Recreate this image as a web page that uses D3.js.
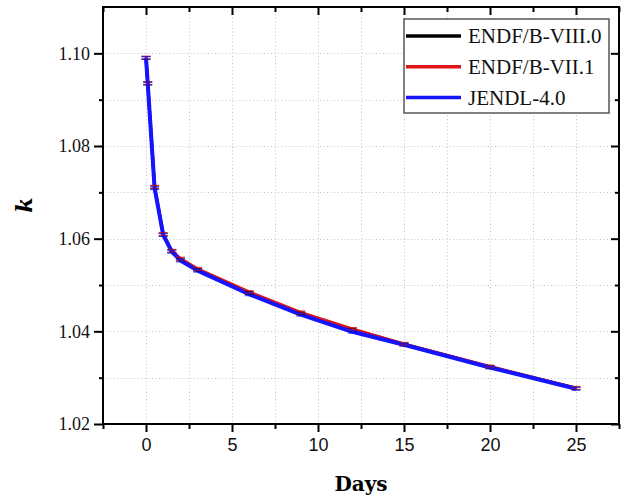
<!DOCTYPE html>
<html>
<head>
<meta charset="utf-8">
<script src="https://cdn.jsdelivr.net/npm/d3@7"></script>
<style>
  body { margin: 0; background: #fff; }
  svg { display: block; }
</style>
</head>
<body>
<svg width="629" height="496"></svg>
<script>
// burnup steps (days) and k values
var days = [0, 0.1, 0.5, 1, 1.5, 2, 3, 6, 9, 12, 15, 20, 25];
var kViii = [1.0990, 1.0935, 1.0711, 1.0609, 1.0573, 1.0555, 1.0533, 1.0483, 1.0439, 1.0404, 1.0372, 1.0323, 1.0277];
var kVii = [1.0991, 1.0936, 1.0712, 1.0610, 1.0574, 1.0557, 1.0535, 1.0485, 1.0441, 1.0405, 1.0373, 1.0324, 1.0278];
var kJendl = [1.0990, 1.0935, 1.0709, 1.0608, 1.0572, 1.0553, 1.0531, 1.0480, 1.0436, 1.0399, 1.0371, 1.0322, 1.0276];
var kErr = [0.0003, 0.0003, 0.0003, 0.0003, 0.0003, 0.0003, 0.0003, 0.0003, 0.0003, 0.0003, 0.0003, 0.0003, 0.0003];

var seriesNames = ["ENDF/B-VIII.0", "ENDF/B-VII.1", "JENDL-4.0"];
var seriesColors = ["#000000", "#dd1515", "#1414ff"];
var seriesWidths = [3, 3, 4];
var seriesValues = [kViii, kVii, kJendl];

var xMajor = [0, 5, 10, 15, 20, 25];
var xMinor = [-2.5, 2.5, 7.5, 12.5, 17.5, 22.5, 27.5];
var yMajor = [1.02, 1.04, 1.06, 1.08, 1.10];
var yMinor = [1.03, 1.05, 1.07, 1.09, 1.11];

var svg = d3.select("svg"),
    margin = {top: 7, right: 10, bottom: 72, left: 103},
    width = +svg.attr("width") - margin.left - margin.right,
    height = +svg.attr("height") - margin.top - margin.bottom;

var x = d3.scaleLinear().domain([-2.5, 27.5]).range([0, width]);
var y = d3.scaleLinear().domain([1.02, 1.11]).range([height, 0]);

var g = svg.append("g").attr("transform", "translate(" + margin.left + "," + margin.top + ")");

// dotted grid at major and minor positions
var grid = g.append("g").attr("class", "grid")
    .attr("stroke", "#c4c4c4").attr("stroke-width", 1).attr("stroke-dasharray", "1,2.5");
grid.selectAll(".gx").data(xMajor.concat(xMinor.slice(1, -1)))
  .enter().append("line")
    .attr("x1", function(d) { return Math.round(x(d)) + 0.5; })
    .attr("x2", function(d) { return Math.round(x(d)) + 0.5; })
    .attr("y1", 0).attr("y2", height);
grid.selectAll(".gy").data(yMajor.slice(1).concat(yMinor.slice(0, -1)))
  .enter().append("line")
    .attr("y1", function(d) { return Math.round(y(d)) + 0.5; })
    .attr("y2", function(d) { return Math.round(y(d)) + 0.5; })
    .attr("x1", 0).attr("x2", width);

// axes: bottom/left ticks outward, top/right ticks inward
function styleAxis(sel) {
  sel.select(".domain").remove();
  sel.selectAll(".tick line").attr("stroke", "#000").attr("stroke-width", 2);
}

var xAxis = g.append("g").attr("transform", "translate(0," + height + ")")
    .call(d3.axisBottom(x).tickValues(xMajor).tickSize(8).tickPadding(6).tickFormat(d3.format("d")));
styleAxis(xAxis);
xAxis.selectAll("text").attr("font-family", "Liberation Sans, Arial, sans-serif").attr("font-size", 18).attr("fill", "#111");
g.append("g").attr("transform", "translate(0," + height + ")")
    .call(d3.axisBottom(x).tickValues(xMinor).tickSize(5).tickFormat(""))
    .call(styleAxis);

var yAxis = g.append("g")
    .call(d3.axisLeft(y).tickValues(yMajor).tickSize(9).tickPadding(4).tickFormat(d3.format(".2f")));
styleAxis(yAxis);
yAxis.selectAll("text").attr("font-family", "Liberation Serif, Times New Roman, serif").attr("font-size", 18).attr("fill", "#111");
g.append("g")
    .call(d3.axisLeft(y).tickValues(yMinor.slice(0, -1)).tickSize(4).tickFormat(""))
    .call(styleAxis);

g.append("g")
    .call(d3.axisBottom(x).tickValues(xMajor).tickSize(8).tickFormat(""))
    .call(styleAxis);
g.append("g")
    .call(d3.axisBottom(x).tickValues(xMinor).tickSize(5).tickFormat(""))
    .call(styleAxis);
g.append("g").attr("transform", "translate(" + width + ",0)")
    .call(d3.axisLeft(y).tickValues(yMajor).tickSize(8).tickFormat(""))
    .call(styleAxis);
g.append("g").attr("transform", "translate(" + width + ",0)")
    .call(d3.axisLeft(y).tickValues(yMinor.slice(0, -1)).tickSize(4).tickFormat(""))
    .call(styleAxis);

// series lines, then error bars on top of all of them
var line = d3.line()
    .x(function(d) { return x(d[0]); })
    .y(function(d) { return y(d[1]); });

var allPts = seriesValues.map(function(vals) {
  return days.map(function(d, j) { return [d, vals[j], kErr[j]]; });
});

allPts.forEach(function(pts, i) {
  g.append("path")
      .datum(pts)
      .attr("d", line)
      .attr("fill", "none")
      .attr("stroke", seriesColors[i])
      .attr("stroke-width", seriesWidths[i])
      .attr("stroke-linejoin", "round");
});

allPts.forEach(function(pts, i) {
  var eb = g.append("g").selectAll(".eb").data(pts).enter().append("g")
      .attr("stroke", seriesColors[i]).attr("stroke-width", 1.2).attr("opacity", 0.7);
  eb.append("line")
      .attr("x1", function(d) { return x(d[0]); })
      .attr("x2", function(d) { return x(d[0]); })
      .attr("y1", function(d) { return y(d[1] - d[2]); })
      .attr("y2", function(d) { return y(d[1] + d[2]); });
  [-1, 1].forEach(function(s) {
    eb.append("line")
        .attr("x1", function(d) { return x(d[0]) - 4.5; })
        .attr("x2", function(d) { return x(d[0]) + 4.5; })
        .attr("y1", function(d) { return y(d[1] + s * d[2]); })
        .attr("y2", function(d) { return y(d[1] + s * d[2]); });
  });
});

// frame
g.append("rect")
    .attr("width", width).attr("height", height)
    .attr("fill", "none").attr("stroke", "#000").attr("stroke-width", 2);

// legend
var lg = svg.append("g").attr("transform", "translate(404,19)");
lg.append("rect")
    .attr("width", 205).attr("height", 94)
    .attr("fill", "#fff").attr("stroke", "#555").attr("stroke-width", 1.5);
seriesNames.forEach(function(name, i) {
  var ly = 17 + i * 30.8;
  lg.append("line")
      .attr("x1", 2).attr("x2", 57).attr("y1", ly).attr("y2", ly)
      .attr("stroke", seriesColors[i]).attr("stroke-width", 3.5);
  lg.append("text")
      .attr("x", 64).attr("y", ly + 7)
      .attr("font-family", "Liberation Serif, Times New Roman, serif")
      .attr("font-size", 21).attr("fill", "#111")
      .text(name);
});

// axis titles
svg.append("text")
    .attr("x", margin.left + width / 2).attr("y", 491)
    .attr("text-anchor", "middle")
    .attr("font-family", "DejaVu Serif, serif").attr("font-weight", "bold").attr("font-size", 20)
    .text("Days");
svg.append("text")
    .attr("transform", "translate(32,205) rotate(-90)")
    .attr("text-anchor", "middle")
    .attr("font-family", "DejaVu Serif, serif").attr("font-weight", "bold").attr("font-style", "italic").attr("font-size", 22)
    .text("k");
</script>
</body>
</html>
